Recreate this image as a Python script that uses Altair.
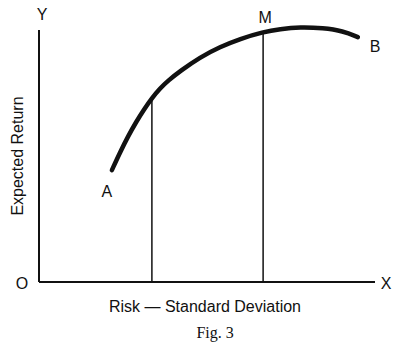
import altair as alt
import pandas as pd

# Efficient frontier curve A -> B (risk, expected return) in axis units 0..10
curve_risk = [2.17, 2.41, 2.65, 2.89, 3.13, 3.36, 3.60, 3.84, 4.20, 4.79, 5.39, 5.98, 6.67, 7.17, 7.77, 8.45, 9.05, 9.49]
curve_ret = [4.44, 5.14, 5.78, 6.35, 6.86, 7.30, 7.68, 7.99, 8.37, 8.92, 9.33, 9.65, 9.92, 10.04, 10.12, 10.08, 9.96, 9.72]

# Vertical drop lines
drop_risk = [3.36, 6.67]
drop_top = [7.30, 9.92]

# Point / axis letters
letter_text = ["Y", "O", "X", "M", "A", "B"]
letter_x = [0.09, -0.51, 10.33, 6.73, 2.02, 10.0]
letter_y = [10.6, -0.08, -0.08, 10.48, 3.57, 9.33]

# Axis extents
axis_max = 10.0

curve_df = pd.DataFrame({"risk": curve_risk, "ret": curve_ret, "order": list(range(len(curve_risk)))})
drop_df = pd.DataFrame({"risk": drop_risk, "y0": [0.0] * len(drop_risk), "y1": drop_top})
axes_df = pd.DataFrame({"x": [0.0, 0.0], "y": [0.0, 0.0], "x2": [axis_max, 0.0], "y2": [0.0, axis_max]})
letters_df = pd.DataFrame({"x": letter_x, "y": letter_y, "t": letter_text})
ylab_df = pd.DataFrame({"x": [-0.63], "y": [5.0], "t": ["Expected Return"]})
xlab_df = pd.DataFrame({"x": [4.94], "y": [-0.99], "t": ["Risk \u2014 Standard Deviation"]})
fig_df = pd.DataFrame({"x": [5.24], "y": [-2.02], "t": ["Fig. 3"]})

xs = alt.Scale(domain=[0, 10], nice=False, zero=False)
ys = alt.Scale(domain=[0, 10], nice=False, zero=False)
FONT = "Liberation Sans"
INK = "#111111"

axes = alt.Chart(axes_df).mark_rule(color=INK, strokeWidth=2).encode(
    x=alt.X("x:Q", scale=xs, axis=None),
    y=alt.Y("y:Q", scale=ys, axis=None),
    x2="x2:Q",
    y2="y2:Q",
)

drops = alt.Chart(drop_df).mark_rule(color=INK, strokeWidth=1.5).encode(
    x=alt.X("risk:Q", scale=xs, axis=None),
    y=alt.Y("y0:Q", scale=ys, axis=None),
    y2="y1:Q",
)

curve = alt.Chart(curve_df).mark_line(
    color=INK, strokeWidth=4.5, strokeCap="round", interpolate="basis"
).encode(
    x=alt.X("risk:Q", scale=xs, axis=None),
    y=alt.Y("ret:Q", scale=ys, axis=None),
    order="order:Q",
)

letters = alt.Chart(letters_df).mark_text(
    font=FONT, fontSize=16, color=INK, align="center", baseline="middle"
).encode(
    x=alt.X("x:Q", scale=xs, axis=None),
    y=alt.Y("y:Q", scale=ys, axis=None),
    text="t:N",
)

ylab = alt.Chart(ylab_df).mark_text(
    font=FONT, fontSize=16, color=INK, align="center", baseline="middle", angle=270
).encode(
    x=alt.X("x:Q", scale=xs, axis=None),
    y=alt.Y("y:Q", scale=ys, axis=None),
    text="t:N",
)

xlab = alt.Chart(xlab_df).mark_text(
    font=FONT, fontSize=16, color=INK, align="center", baseline="middle"
).encode(
    x=alt.X("x:Q", scale=xs, axis=None),
    y=alt.Y("y:Q", scale=ys, axis=None),
    text="t:N",
)

figlab = alt.Chart(fig_df).mark_text(
    font="Liberation Serif", fontSize=16, color=INK, align="center", baseline="middle"
).encode(
    x=alt.X("x:Q", scale=xs, axis=None),
    y=alt.Y("y:Q", scale=ys, axis=None),
    text="t:N",
)

chart = alt.layer(axes, drops, curve, letters, ylab, xlab, figlab).properties(
    width=336,
    height=252,
    padding={"left": 39, "top": 30, "right": 28, "bottom": 68},
    autosize=alt.AutoSizeParams(type="none"),
    background="white",
).configure_view(stroke=None)

chart.save("out.html", embed_options={"renderer": "svg", "actions": False})
